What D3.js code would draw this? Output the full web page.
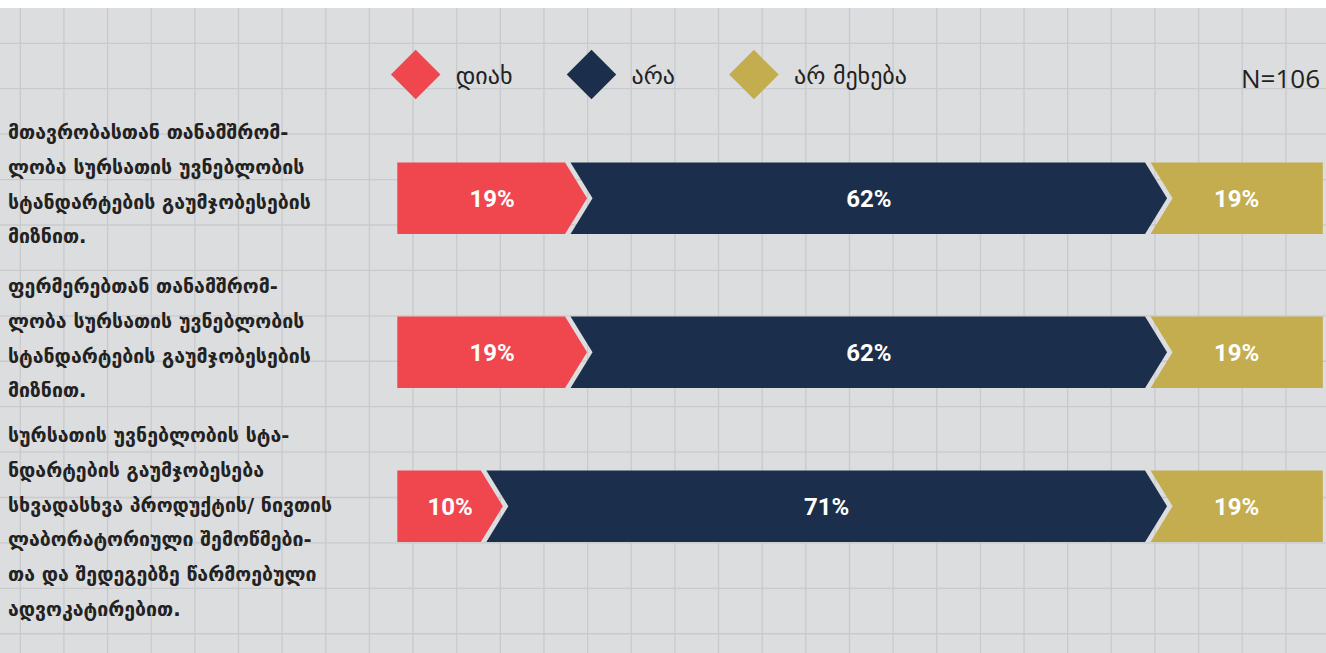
<!DOCTYPE html>
<html>
<head>
<meta charset="utf-8">
<script src="https://cdn.jsdelivr.net/npm/d3@7"></script>
<style>
  body { margin: 0; background: #fff; }
  svg { display: block; }
</style>
</head>
<body>
<svg id="chart" width="1326" height="653"></svg>
<script>
// row labels, already wrapped the way the original shows them
const categories = [
    ["მთავრობასთან თანამშრომ-", "ლობა სურსათის უვნებლობის", "სტანდარტების გაუმჯობესების", "მიზნით."],
    ["ფერმერებთან თანამშრომ-", "ლობა სურსათის უვნებლობის", "სტანდარტების გაუმჯობესების", "მიზნით."],
    ["სურსათის უვნებლობის სტა-", "ნდარტების გაუმჯობესება", "სხვადასხვა პროდუქტის/ ნივთის", "ლაბორატორიული შემოწმები-", "თა და შედეგებზე წარმოებული", "ადვოკატირებით."]
];
const yesValues = [19, 19, 10];
const noValues = [62, 62, 71];
const dkValues = [19, 19, 19];
const seriesNames = ["დიახ", "არა", "არ მეხება"];
const seriesColors = ["#f0474f", "#1b2e4b", "#c4ad4f"];
const sampleLabel = "N=106";

const svg = d3.select("#chart");
const W = 1326, H = 653;

// background + grid paper
svg.append("rect").attr("width", W).attr("height", H).attr("fill", "#fff");
svg.append("rect").attr("y", 8).attr("width", W).attr("height", H - 8).attr("fill", "#dcdddf");

const grid = svg.append("g").attr("stroke", "#c9cacd").attr("stroke-width", 1.3);
grid.selectAll(".vl")
    .data(d3.range(20.3, W, 43.64))
    .enter().append("line")
    .attr("x1", d => d).attr("x2", d => d)
    .attr("y1", 8).attr("y2", H);
grid.selectAll(".hl")
    .data(d3.range(43.3, H, 45.42))
    .enter().append("line")
    .attr("x1", 0).attr("x2", W)
    .attr("y1", d => d).attr("y2", d => d);

const rows = categories.map((c, i) => ({
    id: i,
    lines: c,
    values: [yesValues[i], noValues[i], dkValues[i]]
}));

const x = d3.scaleLinear().domain([0, 100]).range([397.3, 1332.8]);
const y = d3.scaleBand()
    .domain(rows.map(d => d.id))
    .range([162.5, 542])
    .paddingInner(0.535)
    .paddingOuter(0);

const cut = 10, tip = 12, gap = 5.5;

function segments(row) {
    let acc = 0;
    return row.values.map((v, k) => {
        const s = { row: row.id, k: k, v: v, x0: acc, x1: acc + v };
        acc += v;
        return s;
    });
}

function shape(s) {
    const xa = x(s.x0), xb = x(s.x1);
    const top = y(s.row), bot = top + y.bandwidth(), mid = top + y.bandwidth() / 2;
    const first = s.k === 0, last = s.k === 2;
    const pts = [];
    if (first) {
        pts.push([xa, top]);
    } else {
        pts.push([xa - cut + gap, top]);
    }
    if (last) {
        pts.push([xb - cut, top], [xb - cut, bot]);
    } else {
        pts.push([xb - cut, top], [xb + tip, mid], [xb - cut, bot]);
    }
    if (first) {
        pts.push([xa, bot]);
    } else {
        pts.push([xa - cut + gap, bot], [xa + tip + gap, mid]);
    }
    return pts;
}

function labelX(s) {
    const xa = x(s.x0), xb = x(s.x1);
    const left = s.k === 0 ? xa : xa - cut + gap;
    const right = s.k === 2 ? xb - cut : xb + tip;
    return (left + right) / 2;
}

const rowG = svg.selectAll(".row")
    .data(rows)
    .enter().append("g")
    .attr("class", "row");

rowG.selectAll("polygon")
    .data(d => segments(d))
    .enter().append("polygon")
    .attr("points", d => shape(d).map(p => p.join(",")).join(" "))
    .attr("fill", d => seriesColors[d.k]);

rowG.selectAll(".pct")
    .data(d => segments(d))
    .enter().append("text")
    .attr("class", "pct")
    .attr("x", d => labelX(d))
    .attr("y", d => y(d.row) + y.bandwidth() / 2)
    .attr("dy", "0.36em")
    .attr("text-anchor", "middle")
    .attr("fill", "#fff")
    .style("font-family", "Roboto, sans-serif")
    .style("font-weight", 700)
    .style("font-size", "24px")
    .text(d => d.v + "%");

// category labels on the left
const lineH = 34.7;
rowG.append("text")
    .attr("class", "cat")
    .attr("fill", "#222")
    .style("font-family", "'DejaVu Sans', sans-serif")
    .style("font-weight", 700)
    .style("font-size", "19.5px")
    .selectAll("tspan")
    .data(d => d.lines.map((l, i) => ({ l: l, i: i, row: d.id, n: d.lines.length })))
    .enter().append("tspan")
    .attr("x", 8)
    .attr("y", d => y(d.row) - 30 - (d.n > 4 ? 5 : 0) + d.i * lineH)
    .attr("dy", "0.35em")
    .text(d => d.l);

// legend
const legend = svg.append("g").attr("class", "legend");
let lx = 415.7;
seriesNames.forEach((name, i) => {
    const g = legend.append("g").attr("transform", `translate(${lx},74.6)`);
    g.append("rect")
        .attr("x", -17.5).attr("y", -17.5)
        .attr("width", 35).attr("height", 35)
        .attr("transform", "rotate(45)")
        .attr("fill", seriesColors[i]);
    const t = g.append("text")
        .attr("x", 40)
        .attr("y", 9)
        .attr("fill", "#222")
        .style("font-family", "'DejaVu Sans', sans-serif")
        .style("font-size", "24px")
        .text(name);
    lx += 40 + t.node().getComputedTextLength() + 79;
});

svg.append("text")
    .attr("x", 1320)
    .attr("y", 88)
    .attr("text-anchor", "end")
    .attr("fill", "#222")
    .style("font-family", "'Open Sans', sans-serif")
    .style("font-size", "26px")
    .text(sampleLabel);
</script>
</body>
</html>
